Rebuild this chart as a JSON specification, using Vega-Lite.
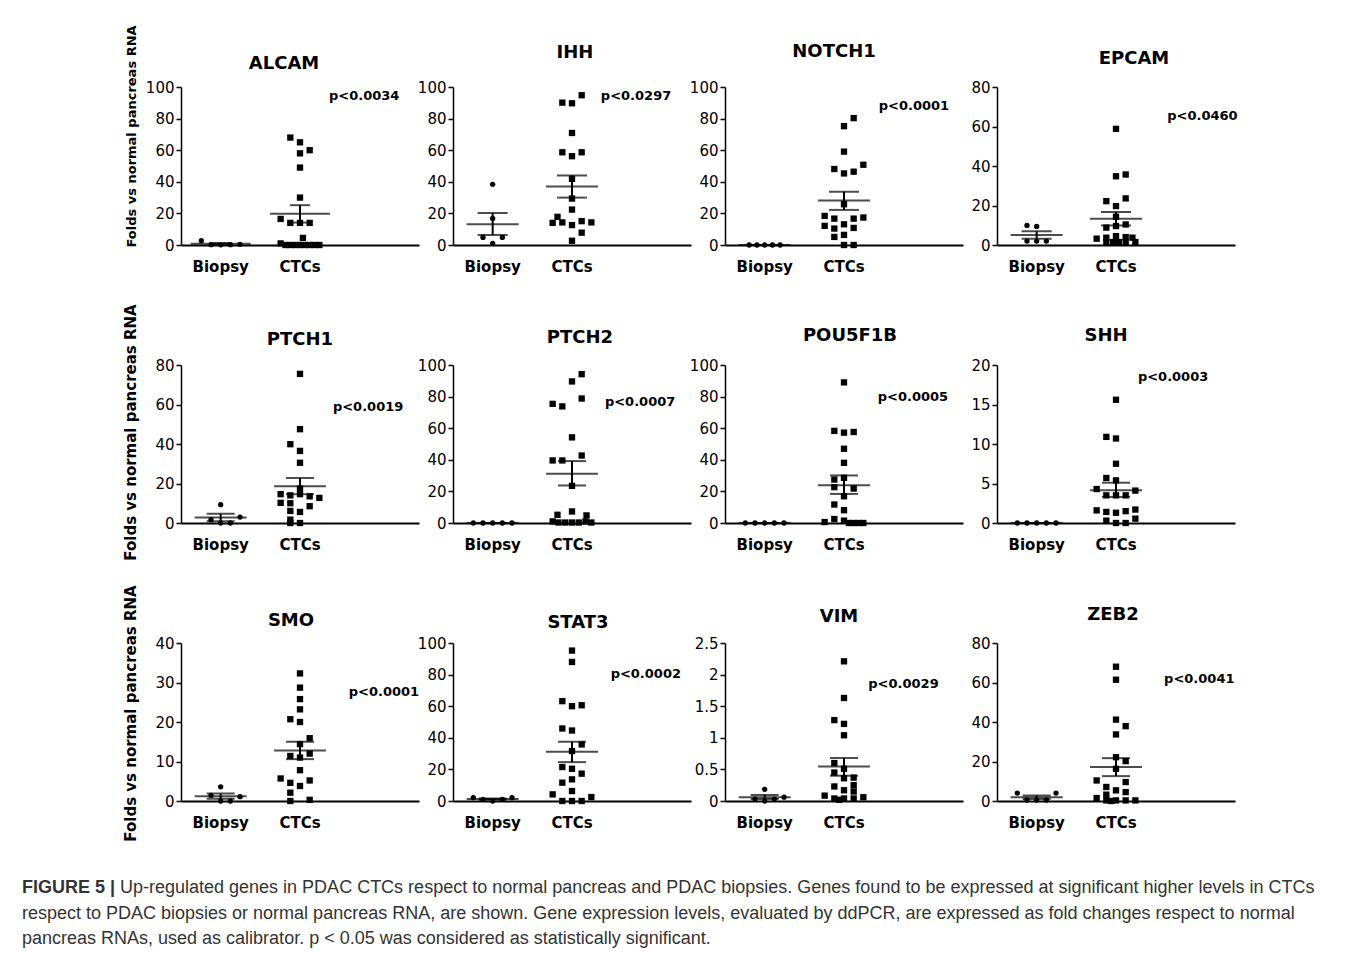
{
"$schema": "https://vega.github.io/schema/vega-lite/v6.json",
"padding": {"left": 22, "top": 24, "right": 10, "bottom": 10},
"bounds": "flush",
"datasets": {
"pts": [
{"g":"ALCAM","grp":"Biopsy","v":2.7,"s":-2},{"g":"ALCAM","grp":"Biopsy","v":0.2,"s":-1},{"g":"ALCAM","grp":"Biopsy","v":0.1,"s":0},{"g":"ALCAM","grp":"Biopsy","v":0.2,"s":1},{"g":"ALCAM","grp":"Biopsy","v":0.4,"s":2},
{"g":"ALCAM","grp":"CTCs","v":68,"s":-1},{"g":"ALCAM","grp":"CTCs","v":65,"s":0},{"g":"ALCAM","grp":"CTCs","v":58,"s":0},{"g":"ALCAM","grp":"CTCs","v":60,"s":1},{"g":"ALCAM","grp":"CTCs","v":49,"s":0},{"g":"ALCAM","grp":"CTCs","v":30,"s":0},{"g":"ALCAM","grp":"CTCs","v":16.5,"s":-2},{"g":"ALCAM","grp":"CTCs","v":14,"s":-1},{"g":"ALCAM","grp":"CTCs","v":14,"s":0},{"g":"ALCAM","grp":"CTCs","v":14,"s":1},{"g":"ALCAM","grp":"CTCs","v":4.5,"s":0.3},{"g":"ALCAM","grp":"CTCs","v":1,"s":-2},{"g":"ALCAM","grp":"CTCs","v":0,"s":-1.5},{"g":"ALCAM","grp":"CTCs","v":0,"s":-1},{"g":"ALCAM","grp":"CTCs","v":0,"s":-0.5},{"g":"ALCAM","grp":"CTCs","v":0,"s":0},{"g":"ALCAM","grp":"CTCs","v":0,"s":0.5},{"g":"ALCAM","grp":"CTCs","v":0,"s":1},{"g":"ALCAM","grp":"CTCs","v":0,"s":1.5},{"g":"ALCAM","grp":"CTCs","v":0,"s":2},
{"g":"IHH","grp":"Biopsy","v":38.4,"s":0},{"g":"IHH","grp":"Biopsy","v":16.8,"s":0},{"g":"IHH","grp":"Biopsy","v":4.8,"s":-1},{"g":"IHH","grp":"Biopsy","v":4.8,"s":1},{"g":"IHH","grp":"Biopsy","v":1,"s":0},
{"g":"IHH","grp":"CTCs","v":90.1,"s":-1},{"g":"IHH","grp":"CTCs","v":89.7,"s":0},{"g":"IHH","grp":"CTCs","v":94.8,"s":1},{"g":"IHH","grp":"CTCs","v":70.9,"s":0},{"g":"IHH","grp":"CTCs","v":58.7,"s":-1},{"g":"IHH","grp":"CTCs","v":56.2,"s":0},{"g":"IHH","grp":"CTCs","v":58.7,"s":1},{"g":"IHH","grp":"CTCs","v":41.9,"s":0},{"g":"IHH","grp":"CTCs","v":29.4,"s":0},{"g":"IHH","grp":"CTCs","v":22.4,"s":0},{"g":"IHH","grp":"CTCs","v":17.8,"s":-1.5},{"g":"IHH","grp":"CTCs","v":14.3,"s":-1},{"g":"IHH","grp":"CTCs","v":14,"s":-2},{"g":"IHH","grp":"CTCs","v":12.6,"s":0},{"g":"IHH","grp":"CTCs","v":15.1,"s":1},{"g":"IHH","grp":"CTCs","v":14.3,"s":2},{"g":"IHH","grp":"CTCs","v":7.8,"s":1},{"g":"IHH","grp":"CTCs","v":2.7,"s":0},
{"g":"NOTCH1","grp":"Biopsy","v":0,"s":-1.6},{"g":"NOTCH1","grp":"Biopsy","v":0,"s":-0.8},{"g":"NOTCH1","grp":"Biopsy","v":0,"s":0},{"g":"NOTCH1","grp":"Biopsy","v":0,"s":0.8},{"g":"NOTCH1","grp":"Biopsy","v":0,"s":1.6},
{"g":"NOTCH1","grp":"CTCs","v":80.3,"s":1},{"g":"NOTCH1","grp":"CTCs","v":75.2,"s":0},{"g":"NOTCH1","grp":"CTCs","v":59.1,"s":0},{"g":"NOTCH1","grp":"CTCs","v":48.1,"s":-1},{"g":"NOTCH1","grp":"CTCs","v":45.3,"s":0},{"g":"NOTCH1","grp":"CTCs","v":46.4,"s":1},{"g":"NOTCH1","grp":"CTCs","v":50.8,"s":2},{"g":"NOTCH1","grp":"CTCs","v":25.8,"s":0},{"g":"NOTCH1","grp":"CTCs","v":18.4,"s":-2},{"g":"NOTCH1","grp":"CTCs","v":16.7,"s":-1},{"g":"NOTCH1","grp":"CTCs","v":16.7,"s":1},{"g":"NOTCH1","grp":"CTCs","v":17.4,"s":2},{"g":"NOTCH1","grp":"CTCs","v":12.1,"s":-2},{"g":"NOTCH1","grp":"CTCs","v":10.4,"s":-1},{"g":"NOTCH1","grp":"CTCs","v":13.1,"s":0},{"g":"NOTCH1","grp":"CTCs","v":10.8,"s":1},{"g":"NOTCH1","grp":"CTCs","v":5.1,"s":-1},{"g":"NOTCH1","grp":"CTCs","v":6.4,"s":0},{"g":"NOTCH1","grp":"CTCs","v":0,"s":0},{"g":"NOTCH1","grp":"CTCs","v":0,"s":1},
{"g":"EPCAM","grp":"Biopsy","v":9.9,"s":-1},{"g":"EPCAM","grp":"Biopsy","v":9.4,"s":0},{"g":"EPCAM","grp":"Biopsy","v":2,"s":-1},{"g":"EPCAM","grp":"Biopsy","v":2,"s":0},{"g":"EPCAM","grp":"Biopsy","v":2,"s":1},
{"g":"EPCAM","grp":"CTCs","v":58.8,"s":0},{"g":"EPCAM","grp":"CTCs","v":34.8,"s":0},{"g":"EPCAM","grp":"CTCs","v":35.7,"s":1},{"g":"EPCAM","grp":"CTCs","v":22.2,"s":-1},{"g":"EPCAM","grp":"CTCs","v":23.6,"s":1},{"g":"EPCAM","grp":"CTCs","v":19.7,"s":0},{"g":"EPCAM","grp":"CTCs","v":14.3,"s":0},{"g":"EPCAM","grp":"CTCs","v":8.8,"s":-1},{"g":"EPCAM","grp":"CTCs","v":9.6,"s":0},{"g":"EPCAM","grp":"CTCs","v":10.4,"s":1},{"g":"EPCAM","grp":"CTCs","v":3.2,"s":-2},{"g":"EPCAM","grp":"CTCs","v":3.7,"s":-1},{"g":"EPCAM","grp":"CTCs","v":4.5,"s":0},{"g":"EPCAM","grp":"CTCs","v":4.0,"s":1},{"g":"EPCAM","grp":"CTCs","v":3.7,"s":1.7},{"g":"EPCAM","grp":"CTCs","v":1.5,"s":-1},{"g":"EPCAM","grp":"CTCs","v":1.5,"s":-0.3},{"g":"EPCAM","grp":"CTCs","v":1.5,"s":0.3},{"g":"EPCAM","grp":"CTCs","v":1.5,"s":1},{"g":"EPCAM","grp":"CTCs","v":1.5,"s":2},
{"g":"PTCH1","grp":"Biopsy","v":9.3,"s":0},{"g":"PTCH1","grp":"Biopsy","v":1.7,"s":-1},{"g":"PTCH1","grp":"Biopsy","v":0,"s":0},{"g":"PTCH1","grp":"Biopsy","v":0,"s":1},{"g":"PTCH1","grp":"Biopsy","v":3,"s":2},
{"g":"PTCH1","grp":"CTCs","v":75.5,"s":0},{"g":"PTCH1","grp":"CTCs","v":47.5,"s":0},{"g":"PTCH1","grp":"CTCs","v":39.9,"s":-1},{"g":"PTCH1","grp":"CTCs","v":36.5,"s":0},{"g":"PTCH1","grp":"CTCs","v":30.5,"s":0},{"g":"PTCH1","grp":"CTCs","v":17.4,"s":0},{"g":"PTCH1","grp":"CTCs","v":14.6,"s":-2},{"g":"PTCH1","grp":"CTCs","v":14,"s":-1},{"g":"PTCH1","grp":"CTCs","v":14.6,"s":0},{"g":"PTCH1","grp":"CTCs","v":13.5,"s":1},{"g":"PTCH1","grp":"CTCs","v":12.7,"s":2},{"g":"PTCH1","grp":"CTCs","v":10.2,"s":-2},{"g":"PTCH1","grp":"CTCs","v":10,"s":-1},{"g":"PTCH1","grp":"CTCs","v":8.5,"s":1},{"g":"PTCH1","grp":"CTCs","v":6.1,"s":-1},{"g":"PTCH1","grp":"CTCs","v":5.6,"s":0},{"g":"PTCH1","grp":"CTCs","v":1.7,"s":-1},{"g":"PTCH1","grp":"CTCs","v":0,"s":0},{"g":"PTCH1","grp":"CTCs","v":0,"s":-1},
{"g":"PTCH2","grp":"Biopsy","v":0,"s":-2},{"g":"PTCH2","grp":"Biopsy","v":0,"s":-1},{"g":"PTCH2","grp":"Biopsy","v":0,"s":0},{"g":"PTCH2","grp":"Biopsy","v":0,"s":1},{"g":"PTCH2","grp":"Biopsy","v":0,"s":2},
{"g":"PTCH2","grp":"CTCs","v":94.2,"s":1},{"g":"PTCH2","grp":"CTCs","v":89.6,"s":0},{"g":"PTCH2","grp":"CTCs","v":75.4,"s":-2},{"g":"PTCH2","grp":"CTCs","v":73.8,"s":-1},{"g":"PTCH2","grp":"CTCs","v":78.8,"s":1},{"g":"PTCH2","grp":"CTCs","v":54.2,"s":0},{"g":"PTCH2","grp":"CTCs","v":39.6,"s":-2},{"g":"PTCH2","grp":"CTCs","v":39.6,"s":-1},{"g":"PTCH2","grp":"CTCs","v":42.7,"s":1},{"g":"PTCH2","grp":"CTCs","v":23.5,"s":0},{"g":"PTCH2","grp":"CTCs","v":5.2,"s":-1.5},{"g":"PTCH2","grp":"CTCs","v":7.3,"s":0},{"g":"PTCH2","grp":"CTCs","v":4.8,"s":1.5},{"g":"PTCH2","grp":"CTCs","v":1,"s":-2},{"g":"PTCH2","grp":"CTCs","v":0.3,"s":-1.4},{"g":"PTCH2","grp":"CTCs","v":0.3,"s":-0.7},{"g":"PTCH2","grp":"CTCs","v":0.3,"s":0},{"g":"PTCH2","grp":"CTCs","v":0.3,"s":0.7},{"g":"PTCH2","grp":"CTCs","v":1,"s":1.4},{"g":"PTCH2","grp":"CTCs","v":0.3,"s":2},
{"g":"POU5F1B","grp":"Biopsy","v":0,"s":-2},{"g":"POU5F1B","grp":"Biopsy","v":0,"s":-1},{"g":"POU5F1B","grp":"Biopsy","v":0,"s":0},{"g":"POU5F1B","grp":"Biopsy","v":0,"s":1},{"g":"POU5F1B","grp":"Biopsy","v":0,"s":2},
{"g":"POU5F1B","grp":"CTCs","v":89,"s":0},{"g":"POU5F1B","grp":"CTCs","v":58.3,"s":-1},{"g":"POU5F1B","grp":"CTCs","v":57.2,"s":0},{"g":"POU5F1B","grp":"CTCs","v":57.6,"s":1},{"g":"POU5F1B","grp":"CTCs","v":47,"s":0},{"g":"POU5F1B","grp":"CTCs","v":38.1,"s":0},{"g":"POU5F1B","grp":"CTCs","v":28.6,"s":0},{"g":"POU5F1B","grp":"CTCs","v":27.5,"s":-1},{"g":"POU5F1B","grp":"CTCs","v":22.7,"s":-1},{"g":"POU5F1B","grp":"CTCs","v":21.8,"s":1},{"g":"POU5F1B","grp":"CTCs","v":16.9,"s":0},{"g":"POU5F1B","grp":"CTCs","v":11.7,"s":-1},{"g":"POU5F1B","grp":"CTCs","v":8.1,"s":0},{"g":"POU5F1B","grp":"CTCs","v":0.6,"s":-2},{"g":"POU5F1B","grp":"CTCs","v":2.5,"s":-1},{"g":"POU5F1B","grp":"CTCs","v":1.5,"s":0},{"g":"POU5F1B","grp":"CTCs","v":0,"s":0.5},{"g":"POU5F1B","grp":"CTCs","v":0,"s":1},{"g":"POU5F1B","grp":"CTCs","v":0,"s":1.5},{"g":"POU5F1B","grp":"CTCs","v":0,"s":2},
{"g":"SHH","grp":"Biopsy","v":0,"s":-2},{"g":"SHH","grp":"Biopsy","v":0,"s":-1},{"g":"SHH","grp":"Biopsy","v":0,"s":0},{"g":"SHH","grp":"Biopsy","v":0,"s":1},{"g":"SHH","grp":"Biopsy","v":0,"s":2},
{"g":"SHH","grp":"CTCs","v":15.6,"s":0},{"g":"SHH","grp":"CTCs","v":10.9,"s":-1},{"g":"SHH","grp":"CTCs","v":10.7,"s":0},{"g":"SHH","grp":"CTCs","v":7.5,"s":0},{"g":"SHH","grp":"CTCs","v":5.7,"s":-1},{"g":"SHH","grp":"CTCs","v":5.4,"s":0},{"g":"SHH","grp":"CTCs","v":4.3,"s":-2},{"g":"SHH","grp":"CTCs","v":4.1,"s":2},{"g":"SHH","grp":"CTCs","v":3.5,"s":-1},{"g":"SHH","grp":"CTCs","v":3.5,"s":0},{"g":"SHH","grp":"CTCs","v":3.5,"s":1},{"g":"SHH","grp":"CTCs","v":1.6,"s":-2},{"g":"SHH","grp":"CTCs","v":1.4,"s":-1},{"g":"SHH","grp":"CTCs","v":1.3,"s":0},{"g":"SHH","grp":"CTCs","v":1.5,"s":1},{"g":"SHH","grp":"CTCs","v":1.7,"s":2},{"g":"SHH","grp":"CTCs","v":0.55,"s":2},{"g":"SHH","grp":"CTCs","v":0.3,"s":-1},{"g":"SHH","grp":"CTCs","v":0,"s":0},{"g":"SHH","grp":"CTCs","v":0,"s":1},
{"g":"SMO","grp":"Biopsy","v":3.6,"s":0},{"g":"SMO","grp":"Biopsy","v":1.4,"s":-1},{"g":"SMO","grp":"Biopsy","v":0,"s":0},{"g":"SMO","grp":"Biopsy","v":0,"s":1},{"g":"SMO","grp":"Biopsy","v":1.1,"s":2},
{"g":"SMO","grp":"CTCs","v":32.3,"s":0},{"g":"SMO","grp":"CTCs","v":28.7,"s":0},{"g":"SMO","grp":"CTCs","v":25.8,"s":0},{"g":"SMO","grp":"CTCs","v":23.2,"s":0},{"g":"SMO","grp":"CTCs","v":20.7,"s":-1},{"g":"SMO","grp":"CTCs","v":20,"s":0},{"g":"SMO","grp":"CTCs","v":15.9,"s":1},{"g":"SMO","grp":"CTCs","v":14.4,"s":0},{"g":"SMO","grp":"CTCs","v":11.4,"s":-1},{"g":"SMO","grp":"CTCs","v":11,"s":0},{"g":"SMO","grp":"CTCs","v":12,"s":1},{"g":"SMO","grp":"CTCs","v":7.8,"s":0},{"g":"SMO","grp":"CTCs","v":5.7,"s":-2},{"g":"SMO","grp":"CTCs","v":4.6,"s":-1},{"g":"SMO","grp":"CTCs","v":5.2,"s":1},{"g":"SMO","grp":"CTCs","v":3.8,"s":0},{"g":"SMO","grp":"CTCs","v":2.1,"s":-1},{"g":"SMO","grp":"CTCs","v":0,"s":-1},{"g":"SMO","grp":"CTCs","v":0.3,"s":1},
{"g":"STAT3","grp":"Biopsy","v":2.1,"s":-2},{"g":"STAT3","grp":"Biopsy","v":1,"s":-1},{"g":"STAT3","grp":"Biopsy","v":0,"s":0},{"g":"STAT3","grp":"Biopsy","v":1,"s":1},{"g":"STAT3","grp":"Biopsy","v":2.1,"s":2},
{"g":"STAT3","grp":"CTCs","v":95.2,"s":0},{"g":"STAT3","grp":"CTCs","v":88,"s":0},{"g":"STAT3","grp":"CTCs","v":63.2,"s":-1},{"g":"STAT3","grp":"CTCs","v":60,"s":0},{"g":"STAT3","grp":"CTCs","v":60.6,"s":1},{"g":"STAT3","grp":"CTCs","v":45.9,"s":-1},{"g":"STAT3","grp":"CTCs","v":44.6,"s":0},{"g":"STAT3","grp":"CTCs","v":35.8,"s":1},{"g":"STAT3","grp":"CTCs","v":31.6,"s":0},{"g":"STAT3","grp":"CTCs","v":21.5,"s":-1},{"g":"STAT3","grp":"CTCs","v":20.4,"s":0},{"g":"STAT3","grp":"CTCs","v":17.3,"s":1},{"g":"STAT3","grp":"CTCs","v":11.6,"s":-1},{"g":"STAT3","grp":"CTCs","v":13.7,"s":0},{"g":"STAT3","grp":"CTCs","v":4.2,"s":-2},{"g":"STAT3","grp":"CTCs","v":6.3,"s":0},{"g":"STAT3","grp":"CTCs","v":2.5,"s":2},{"g":"STAT3","grp":"CTCs","v":0,"s":-1},{"g":"STAT3","grp":"CTCs","v":0,"s":0},{"g":"STAT3","grp":"CTCs","v":0,"s":1},
{"g":"VIM","grp":"Biopsy","v":0.185,"s":0},{"g":"VIM","grp":"Biopsy","v":0.03,"s":-1},{"g":"VIM","grp":"Biopsy","v":0,"s":0},{"g":"VIM","grp":"Biopsy","v":0.03,"s":1},{"g":"VIM","grp":"Biopsy","v":0.06,"s":2},
{"g":"VIM","grp":"CTCs","v":2.21,"s":0},{"g":"VIM","grp":"CTCs","v":1.63,"s":0},{"g":"VIM","grp":"CTCs","v":1.28,"s":-1},{"g":"VIM","grp":"CTCs","v":1.22,"s":0},{"g":"VIM","grp":"CTCs","v":1.04,"s":0},{"g":"VIM","grp":"CTCs","v":0.6,"s":-1},{"g":"VIM","grp":"CTCs","v":0.51,"s":0},{"g":"VIM","grp":"CTCs","v":0.45,"s":-1},{"g":"VIM","grp":"CTCs","v":0.37,"s":1},{"g":"VIM","grp":"CTCs","v":0.36,"s":0},{"g":"VIM","grp":"CTCs","v":0.25,"s":1},{"g":"VIM","grp":"CTCs","v":0.23,"s":-1},{"g":"VIM","grp":"CTCs","v":0.085,"s":-2},{"g":"VIM","grp":"CTCs","v":0.17,"s":0},{"g":"VIM","grp":"CTCs","v":0.15,"s":1},{"g":"VIM","grp":"CTCs","v":0.04,"s":-1},{"g":"VIM","grp":"CTCs","v":0.04,"s":0},{"g":"VIM","grp":"CTCs","v":0.04,"s":1},{"g":"VIM","grp":"CTCs","v":0.06,"s":2},{"g":"VIM","grp":"CTCs","v":0.02,"s":-0.5},
{"g":"ZEB2","grp":"Biopsy","v":4,"s":-2},{"g":"ZEB2","grp":"Biopsy","v":0.5,"s":-1},{"g":"ZEB2","grp":"Biopsy","v":0.5,"s":0},{"g":"ZEB2","grp":"Biopsy","v":0.5,"s":1},{"g":"ZEB2","grp":"Biopsy","v":4,"s":2},
{"g":"ZEB2","grp":"CTCs","v":68,"s":0},{"g":"ZEB2","grp":"CTCs","v":61.4,"s":0},{"g":"ZEB2","grp":"CTCs","v":41.2,"s":0},{"g":"ZEB2","grp":"CTCs","v":37.9,"s":1},{"g":"ZEB2","grp":"CTCs","v":33.7,"s":0},{"g":"ZEB2","grp":"CTCs","v":22.2,"s":0},{"g":"ZEB2","grp":"CTCs","v":20.2,"s":1},{"g":"ZEB2","grp":"CTCs","v":16.3,"s":0},{"g":"ZEB2","grp":"CTCs","v":10.4,"s":-2},{"g":"ZEB2","grp":"CTCs","v":9.6,"s":1},{"g":"ZEB2","grp":"CTCs","v":7.1,"s":-1},{"g":"ZEB2","grp":"CTCs","v":5.4,"s":0},{"g":"ZEB2","grp":"CTCs","v":1.5,"s":-2},{"g":"ZEB2","grp":"CTCs","v":3.2,"s":-1},{"g":"ZEB2","grp":"CTCs","v":4.5,"s":1},{"g":"ZEB2","grp":"CTCs","v":0.3,"s":-1},{"g":"ZEB2","grp":"CTCs","v":0.3,"s":0},{"g":"ZEB2","grp":"CTCs","v":0.3,"s":1},{"g":"ZEB2","grp":"CTCs","v":0.3,"s":2},{"g":"ZEB2","grp":"CTCs","v":0,"s":-0.5}
],
"st": [
{"g":"ALCAM","grp":"Biopsy","m":0.72,"lo":0.25,"hi":1.2},{"g":"ALCAM","grp":"CTCs","m":19.7,"lo":14.2,"hi":25.2},
{"g":"IHH","grp":"Biopsy","m":13.2,"lo":6.3,"hi":20.3},{"g":"IHH","grp":"CTCs","m":37.1,"lo":30,"hi":44},
{"g":"NOTCH1","grp":"Biopsy","m":0,"lo":0,"hi":0},{"g":"NOTCH1","grp":"CTCs","m":28.2,"lo":22.2,"hi":33.7},
{"g":"EPCAM","grp":"Biopsy","m":5.06,"lo":3.2,"hi":6.9},{"g":"EPCAM","grp":"CTCs","m":13.3,"lo":9.9,"hi":16.7},
{"g":"PTCH1","grp":"Biopsy","m":2.8,"lo":0.9,"hi":4.7},{"g":"PTCH1","grp":"CTCs","m":18.6,"lo":14.6,"hi":22.8},
{"g":"PTCH2","grp":"Biopsy","m":0,"lo":0,"hi":0},{"g":"PTCH2","grp":"CTCs","m":31.25,"lo":23.75,"hi":39.2},
{"g":"POU5F1B","grp":"Biopsy","m":0,"lo":0,"hi":0},{"g":"POU5F1B","grp":"CTCs","m":23.9,"lo":18.4,"hi":30.1},
{"g":"SHH","grp":"Biopsy","m":0,"lo":0,"hi":0},{"g":"SHH","grp":"CTCs","m":4.15,"lo":3.3,"hi":5.1},
{"g":"SMO","grp":"Biopsy","m":1.22,"lo":0.55,"hi":1.9},{"g":"SMO","grp":"CTCs","m":12.8,"lo":10.6,"hi":15},
{"g":"STAT3","grp":"Biopsy","m":1.24,"lo":0.85,"hi":1.63},{"g":"STAT3","grp":"CTCs","m":31.2,"lo":24.6,"hi":37.5},
{"g":"VIM","grp":"Biopsy","m":0.061,"lo":0.03,"hi":0.095},{"g":"VIM","grp":"CTCs","m":0.544,"lo":0.4,"hi":0.68},
{"g":"ZEB2","grp":"Biopsy","m":1.9,"lo":1.0,"hi":2.8},{"g":"ZEB2","grp":"CTCs","m":17.2,"lo":12.6,"hi":21.7}
]
},
"title": {
"text": ["respect to PDAC biopsies or normal pancreas RNA, are shown. Gene expression levels, evaluated by ddPCR, are expressed as fold changes respect to normal", "pancreas RNAs, used as calibrator. p < 0.05 was considered as statistically significant."],
"orient": "bottom", "anchor": "start", "frame": "group", "dx": -159, "offset": 7.5,
"font": "Liberation Sans", "fontSize": 18, "fontWeight": "normal", "color": "#333333", "lineHeight": 25.5
},
"vconcat": [
{
"title": {"text": "Up-regulated genes in PDAC CTCs respect to normal pancreas and PDAC biopsies. Genes found to be expressed at significant higher levels in CTCs", "orient": "bottom", "anchor": "start", "frame": "group", "dx": -61, "offset": -18, "font": "Liberation Sans", "fontSize": 18, "fontWeight": "normal", "color": "#333333"},
"vconcat": [
{
"bounds": "flush",
"columns": 4,
"spacing": {"row": 120, "column": 34},
"title": {"text": "FIGURE 5 |", "orient": "bottom", "anchor": "start", "frame": "group", "dx": -159, "offset": 38, "font": "Liberation Sans", "fontSize": 18, "fontWeight": "bold", "color": "#333333"},
"concat": [
{"width": 238, "height": 158, "title": {"text": "ALCAM", "dx": -16, "offset": -48},
 "layer": [
 {"data": {"name": "pts"}, "transform": [{"filter": "datum.g == 'ALCAM'"}], "mark": {"type": "point", "filled": true, "opacity": 1, "color": "black"},
  "encoding": {"x": {"field": "grp", "type": "nominal", "title": null, "scale": {"type": "band", "domain": ["Biopsy", "CTCs", " "], "paddingInner": 0, "paddingOuter": 0}},
   "xOffset": {"field": "s", "type": "quantitative", "scale": {"domain": [-4.1, 4.1]}},
   "y": {"field": "v", "type": "quantitative", "scale": {"domain": [0, 100], "nice": false}, "axis": {"values": [0, 20, 40, 60, 80, 100], "title": "Folds vs normal pancreas RNA", "titleFontSize": 13, "titleY": 49}},
   "shape": {"field": "grp", "type": "nominal", "scale": {"domain": ["Biopsy", "CTCs"], "range": ["circle", "square"]}, "legend": null},
   "size": {"field": "grp", "type": "nominal", "scale": {"domain": ["Biopsy", "CTCs"], "range": [28, 40]}, "legend": null}}},
 {"data": {"name": "st"}, "transform": [{"filter": "datum.g == 'ALCAM'"}], "mark": {"type": "tick", "orient": "horizontal", "color": "black", "size": 60, "thickness": 2}, "encoding": {"x": {"field": "grp", "type": "nominal"}, "y": {"field": "m", "type": "quantitative"}}},
 {"data": {"name": "st"}, "transform": [{"filter": "datum.g == 'ALCAM'"}], "mark": {"type": "tick", "orient": "horizontal", "color": "black", "size": 20, "thickness": 2}, "encoding": {"x": {"field": "grp", "type": "nominal"}, "y": {"field": "lo", "type": "quantitative"}}},
 {"data": {"name": "st"}, "transform": [{"filter": "datum.g == 'ALCAM'"}], "mark": {"type": "tick", "orient": "horizontal", "color": "black", "size": 20, "thickness": 2}, "encoding": {"x": {"field": "grp", "type": "nominal"}, "y": {"field": "hi", "type": "quantitative"}}},
 {"data": {"name": "st"}, "transform": [{"filter": "datum.g == 'ALCAM'"}], "mark": {"type": "rule", "color": "black", "strokeWidth": 2}, "encoding": {"x": {"field": "grp", "type": "nominal"}, "y": {"field": "lo", "type": "quantitative"}, "y2": {"field": "hi"}}},
 {"data": {"values": [{}]}, "mark": {"type": "text", "fontWeight": "bold", "fontSize": 13, "color": "black"}, "encoding": {"x": {"datum": " "}, "xOffset": {"datum": -1.56}, "y": {"datum": 94.3}, "text": {"value": "p<0.0034"}}}
 ]},
{"width": 238, "height": 158, "title": {"text": "IHH", "dx": 3, "offset": 18.5},
 "layer": [
 {"data": {"name": "pts"}, "transform": [{"filter": "datum.g == 'IHH'"}], "mark": {"type": "point", "filled": true, "opacity": 1, "color": "black"},
  "encoding": {"x": {"field": "grp", "type": "nominal", "title": null, "scale": {"type": "band", "domain": ["Biopsy", "CTCs", " "], "paddingInner": 0, "paddingOuter": 0}},
   "xOffset": {"field": "s", "type": "quantitative", "scale": {"domain": [-4.1, 4.1]}},
   "y": {"field": "v", "type": "quantitative", "scale": {"domain": [0, 100], "nice": false}, "axis": {"values": [0, 20, 40, 60, 80, 100], "title": null}},
   "shape": {"field": "grp", "type": "nominal", "scale": {"domain": ["Biopsy", "CTCs"], "range": ["circle", "square"]}, "legend": null},
   "size": {"field": "grp", "type": "nominal", "scale": {"domain": ["Biopsy", "CTCs"], "range": [28, 40]}, "legend": null}}},
 {"data": {"name": "st"}, "transform": [{"filter": "datum.g == 'IHH'"}], "mark": {"type": "tick", "orient": "horizontal", "color": "black", "size": 52, "thickness": 2}, "encoding": {"x": {"field": "grp", "type": "nominal"}, "y": {"field": "m", "type": "quantitative"}}},
 {"data": {"name": "st"}, "transform": [{"filter": "datum.g == 'IHH'"}], "mark": {"type": "tick", "orient": "horizontal", "color": "black", "size": 30, "thickness": 2}, "encoding": {"x": {"field": "grp", "type": "nominal"}, "y": {"field": "lo", "type": "quantitative"}}},
 {"data": {"name": "st"}, "transform": [{"filter": "datum.g == 'IHH'"}], "mark": {"type": "tick", "orient": "horizontal", "color": "black", "size": 30, "thickness": 2}, "encoding": {"x": {"field": "grp", "type": "nominal"}, "y": {"field": "hi", "type": "quantitative"}}},
 {"data": {"name": "st"}, "transform": [{"filter": "datum.g == 'IHH'"}], "mark": {"type": "rule", "color": "black", "strokeWidth": 2}, "encoding": {"x": {"field": "grp", "type": "nominal"}, "y": {"field": "lo", "type": "quantitative"}, "y2": {"field": "hi"}}},
 {"data": {"values": [{}]}, "mark": {"type": "text", "fontWeight": "bold", "fontSize": 13, "color": "black"}, "encoding": {"x": {"datum": " "}, "xOffset": {"datum": -1.58}, "y": {"datum": 94.3}, "text": {"value": "p<0.0297"}}}
 ]},
{"width": 238, "height": 158, "title": {"text": "NOTCH1", "dx": -10, "offset": 19},
 "layer": [
 {"data": {"name": "pts"}, "transform": [{"filter": "datum.g == 'NOTCH1'"}], "mark": {"type": "point", "filled": true, "opacity": 1, "color": "black"},
  "encoding": {"x": {"field": "grp", "type": "nominal", "title": null, "scale": {"type": "band", "domain": ["Biopsy", "CTCs", " "], "paddingInner": 0, "paddingOuter": 0}},
   "xOffset": {"field": "s", "type": "quantitative", "scale": {"domain": [-4.1, 4.1]}},
   "y": {"field": "v", "type": "quantitative", "scale": {"domain": [0, 100], "nice": false}, "axis": {"values": [0, 20, 40, 60, 80, 100], "title": null}},
   "shape": {"field": "grp", "type": "nominal", "scale": {"domain": ["Biopsy", "CTCs"], "range": ["circle", "square"]}, "legend": null},
   "size": {"field": "grp", "type": "nominal", "scale": {"domain": ["Biopsy", "CTCs"], "range": [28, 40]}, "legend": null}}},
 {"data": {"name": "st"}, "transform": [{"filter": "datum.g == 'NOTCH1'"}], "mark": {"type": "tick", "orient": "horizontal", "color": "black", "size": 52, "thickness": 2}, "encoding": {"x": {"field": "grp", "type": "nominal"}, "y": {"field": "m", "type": "quantitative"}}},
 {"data": {"name": "st"}, "transform": [{"filter": "datum.g == 'NOTCH1'"}], "mark": {"type": "tick", "orient": "horizontal", "color": "black", "size": 30, "thickness": 2}, "encoding": {"x": {"field": "grp", "type": "nominal"}, "y": {"field": "lo", "type": "quantitative"}}},
 {"data": {"name": "st"}, "transform": [{"filter": "datum.g == 'NOTCH1'"}], "mark": {"type": "tick", "orient": "horizontal", "color": "black", "size": 30, "thickness": 2}, "encoding": {"x": {"field": "grp", "type": "nominal"}, "y": {"field": "hi", "type": "quantitative"}}},
 {"data": {"name": "st"}, "transform": [{"filter": "datum.g == 'NOTCH1'"}], "mark": {"type": "rule", "color": "black", "strokeWidth": 2}, "encoding": {"x": {"field": "grp", "type": "nominal"}, "y": {"field": "lo", "type": "quantitative"}, "y2": {"field": "hi"}}},
 {"data": {"values": [{}]}, "mark": {"type": "text", "fontWeight": "bold", "fontSize": 13, "color": "black"}, "encoding": {"x": {"datum": " "}, "xOffset": {"datum": -0.97}, "y": {"datum": 87.9}, "text": {"value": "p<0.0001"}}}
 ]},
{"width": 238, "height": 158, "title": {"text": "EPCAM", "dx": 18, "offset": 12},
 "layer": [
 {"data": {"name": "pts"}, "transform": [{"filter": "datum.g == 'EPCAM'"}], "mark": {"type": "point", "filled": true, "opacity": 1, "color": "black"},
  "encoding": {"x": {"field": "grp", "type": "nominal", "title": null, "scale": {"type": "band", "domain": ["Biopsy", "CTCs", " "], "paddingInner": 0, "paddingOuter": 0}},
   "xOffset": {"field": "s", "type": "quantitative", "scale": {"domain": [-4.1, 4.1]}},
   "y": {"field": "v", "type": "quantitative", "scale": {"domain": [0, 80], "nice": false}, "axis": {"values": [0, 20, 40, 60, 80], "title": null}},
   "shape": {"field": "grp", "type": "nominal", "scale": {"domain": ["Biopsy", "CTCs"], "range": ["circle", "square"]}, "legend": null},
   "size": {"field": "grp", "type": "nominal", "scale": {"domain": ["Biopsy", "CTCs"], "range": [28, 40]}, "legend": null}}},
 {"data": {"name": "st"}, "transform": [{"filter": "datum.g == 'EPCAM'"}], "mark": {"type": "tick", "orient": "horizontal", "color": "black", "size": 52, "thickness": 2}, "encoding": {"x": {"field": "grp", "type": "nominal"}, "y": {"field": "m", "type": "quantitative"}}},
 {"data": {"name": "st"}, "transform": [{"filter": "datum.g == 'EPCAM'"}], "mark": {"type": "tick", "orient": "horizontal", "color": "black", "size": 30, "thickness": 2}, "encoding": {"x": {"field": "grp", "type": "nominal"}, "y": {"field": "lo", "type": "quantitative"}}},
 {"data": {"name": "st"}, "transform": [{"filter": "datum.g == 'EPCAM'"}], "mark": {"type": "tick", "orient": "horizontal", "color": "black", "size": 30, "thickness": 2}, "encoding": {"x": {"field": "grp", "type": "nominal"}, "y": {"field": "hi", "type": "quantitative"}}},
 {"data": {"name": "st"}, "transform": [{"filter": "datum.g == 'EPCAM'"}], "mark": {"type": "rule", "color": "black", "strokeWidth": 2}, "encoding": {"x": {"field": "grp", "type": "nominal"}, "y": {"field": "lo", "type": "quantitative"}, "y2": {"field": "hi"}}},
 {"data": {"values": [{}]}, "mark": {"type": "text", "fontWeight": "bold", "fontSize": 13, "color": "black"}, "encoding": {"x": {"datum": " "}, "xOffset": {"datum": 0.73}, "y": {"datum": 65.3}, "text": {"value": "p<0.0460"}}}
 ]},
{"width": 238, "height": 158, "title": {"text": "PTCH1", "dx": 0, "offset": -45},
 "layer": [
 {"data": {"name": "pts"}, "transform": [{"filter": "datum.g == 'PTCH1'"}], "mark": {"type": "point", "filled": true, "opacity": 1, "color": "black"},
  "encoding": {"x": {"field": "grp", "type": "nominal", "title": null, "scale": {"type": "band", "domain": ["Biopsy", "CTCs", " "], "paddingInner": 0, "paddingOuter": 0}},
   "xOffset": {"field": "s", "type": "quantitative", "scale": {"domain": [-4.1, 4.1]}},
   "y": {"field": "v", "type": "quantitative", "scale": {"domain": [0, 80], "nice": false}, "axis": {"values": [0, 20, 40, 60, 80], "title": "Folds vs normal pancreas RNA", "titleFontSize": 15, "titleY": 67}},
   "shape": {"field": "grp", "type": "nominal", "scale": {"domain": ["Biopsy", "CTCs"], "range": ["circle", "square"]}, "legend": null},
   "size": {"field": "grp", "type": "nominal", "scale": {"domain": ["Biopsy", "CTCs"], "range": [28, 40]}, "legend": null}}},
 {"data": {"name": "st"}, "transform": [{"filter": "datum.g == 'PTCH1'"}], "mark": {"type": "tick", "orient": "horizontal", "color": "black", "size": 52, "thickness": 2}, "encoding": {"x": {"field": "grp", "type": "nominal"}, "y": {"field": "m", "type": "quantitative"}}},
 {"data": {"name": "st"}, "transform": [{"filter": "datum.g == 'PTCH1'"}], "mark": {"type": "tick", "orient": "horizontal", "color": "black", "size": 28, "thickness": 2}, "encoding": {"x": {"field": "grp", "type": "nominal"}, "y": {"field": "lo", "type": "quantitative"}}},
 {"data": {"name": "st"}, "transform": [{"filter": "datum.g == 'PTCH1'"}], "mark": {"type": "tick", "orient": "horizontal", "color": "black", "size": 28, "thickness": 2}, "encoding": {"x": {"field": "grp", "type": "nominal"}, "y": {"field": "hi", "type": "quantitative"}}},
 {"data": {"name": "st"}, "transform": [{"filter": "datum.g == 'PTCH1'"}], "mark": {"type": "rule", "color": "black", "strokeWidth": 2}, "encoding": {"x": {"field": "grp", "type": "nominal"}, "y": {"field": "lo", "type": "quantitative"}, "y2": {"field": "hi"}}},
 {"data": {"values": [{}]}, "mark": {"type": "text", "fontWeight": "bold", "fontSize": 13, "color": "black"}, "encoding": {"x": {"datum": " "}, "xOffset": {"datum": -1.16}, "y": {"datum": 58.6}, "text": {"value": "p<0.0019"}}}
 ]},
{"width": 238, "height": 158, "title": {"text": "PTCH2", "dx": 8, "offset": 11.5},
 "layer": [
 {"data": {"name": "pts"}, "transform": [{"filter": "datum.g == 'PTCH2'"}], "mark": {"type": "point", "filled": true, "opacity": 1, "color": "black"},
  "encoding": {"x": {"field": "grp", "type": "nominal", "title": null, "scale": {"type": "band", "domain": ["Biopsy", "CTCs", " "], "paddingInner": 0, "paddingOuter": 0}},
   "xOffset": {"field": "s", "type": "quantitative", "scale": {"domain": [-4.1, 4.1]}},
   "y": {"field": "v", "type": "quantitative", "scale": {"domain": [0, 100], "nice": false}, "axis": {"values": [0, 20, 40, 60, 80, 100], "title": null}},
   "shape": {"field": "grp", "type": "nominal", "scale": {"domain": ["Biopsy", "CTCs"], "range": ["circle", "square"]}, "legend": null},
   "size": {"field": "grp", "type": "nominal", "scale": {"domain": ["Biopsy", "CTCs"], "range": [28, 40]}, "legend": null}}},
 {"data": {"name": "st"}, "transform": [{"filter": "datum.g == 'PTCH2'"}], "mark": {"type": "tick", "orient": "horizontal", "color": "black", "size": 52, "thickness": 2}, "encoding": {"x": {"field": "grp", "type": "nominal"}, "y": {"field": "m", "type": "quantitative"}}},
 {"data": {"name": "st"}, "transform": [{"filter": "datum.g == 'PTCH2'"}], "mark": {"type": "tick", "orient": "horizontal", "color": "black", "size": 28, "thickness": 2}, "encoding": {"x": {"field": "grp", "type": "nominal"}, "y": {"field": "lo", "type": "quantitative"}}},
 {"data": {"name": "st"}, "transform": [{"filter": "datum.g == 'PTCH2'"}], "mark": {"type": "tick", "orient": "horizontal", "color": "black", "size": 28, "thickness": 2}, "encoding": {"x": {"field": "grp", "type": "nominal"}, "y": {"field": "hi", "type": "quantitative"}}},
 {"data": {"name": "st"}, "transform": [{"filter": "datum.g == 'PTCH2'"}], "mark": {"type": "rule", "color": "black", "strokeWidth": 2}, "encoding": {"x": {"field": "grp", "type": "nominal"}, "y": {"field": "lo", "type": "quantitative"}, "y2": {"field": "hi"}}},
 {"data": {"values": [{}]}, "mark": {"type": "text", "fontWeight": "bold", "fontSize": 13, "color": "black"}, "encoding": {"x": {"datum": " "}, "xOffset": {"datum": -1.16}, "y": {"datum": 76.3}, "text": {"value": "p<0.0007"}}}
 ]},
{"width": 238, "height": 158, "title": {"text": "POU5F1B", "dx": 6, "offset": 13.5},
 "layer": [
 {"data": {"name": "pts"}, "transform": [{"filter": "datum.g == 'POU5F1B'"}], "mark": {"type": "point", "filled": true, "opacity": 1, "color": "black"},
  "encoding": {"x": {"field": "grp", "type": "nominal", "title": null, "scale": {"type": "band", "domain": ["Biopsy", "CTCs", " "], "paddingInner": 0, "paddingOuter": 0}},
   "xOffset": {"field": "s", "type": "quantitative", "scale": {"domain": [-4.1, 4.1]}},
   "y": {"field": "v", "type": "quantitative", "scale": {"domain": [0, 100], "nice": false}, "axis": {"values": [0, 20, 40, 60, 80, 100], "title": null}},
   "shape": {"field": "grp", "type": "nominal", "scale": {"domain": ["Biopsy", "CTCs"], "range": ["circle", "square"]}, "legend": null},
   "size": {"field": "grp", "type": "nominal", "scale": {"domain": ["Biopsy", "CTCs"], "range": [28, 40]}, "legend": null}}},
 {"data": {"name": "st"}, "transform": [{"filter": "datum.g == 'POU5F1B'"}], "mark": {"type": "tick", "orient": "horizontal", "color": "black", "size": 52, "thickness": 2}, "encoding": {"x": {"field": "grp", "type": "nominal"}, "y": {"field": "m", "type": "quantitative"}}},
 {"data": {"name": "st"}, "transform": [{"filter": "datum.g == 'POU5F1B'"}], "mark": {"type": "tick", "orient": "horizontal", "color": "black", "size": 28, "thickness": 2}, "encoding": {"x": {"field": "grp", "type": "nominal"}, "y": {"field": "lo", "type": "quantitative"}}},
 {"data": {"name": "st"}, "transform": [{"filter": "datum.g == 'POU5F1B'"}], "mark": {"type": "tick", "orient": "horizontal", "color": "black", "size": 28, "thickness": 2}, "encoding": {"x": {"field": "grp", "type": "nominal"}, "y": {"field": "hi", "type": "quantitative"}}},
 {"data": {"name": "st"}, "transform": [{"filter": "datum.g == 'POU5F1B'"}], "mark": {"type": "rule", "color": "black", "strokeWidth": 2}, "encoding": {"x": {"field": "grp", "type": "nominal"}, "y": {"field": "lo", "type": "quantitative"}, "y2": {"field": "hi"}}},
 {"data": {"values": [{}]}, "mark": {"type": "text", "fontWeight": "bold", "fontSize": 13, "color": "black"}, "encoding": {"x": {"datum": " "}, "xOffset": {"datum": -1.07}, "y": {"datum": 79.6}, "text": {"value": "p<0.0005"}}}
 ]},
{"width": 238, "height": 158, "title": {"text": "SHH", "dx": -10, "offset": 13.5},
 "layer": [
 {"data": {"name": "pts"}, "transform": [{"filter": "datum.g == 'SHH'"}], "mark": {"type": "point", "filled": true, "opacity": 1, "color": "black"},
  "encoding": {"x": {"field": "grp", "type": "nominal", "title": null, "scale": {"type": "band", "domain": ["Biopsy", "CTCs", " "], "paddingInner": 0, "paddingOuter": 0}},
   "xOffset": {"field": "s", "type": "quantitative", "scale": {"domain": [-4.1, 4.1]}},
   "y": {"field": "v", "type": "quantitative", "scale": {"domain": [0, 20], "nice": false}, "axis": {"values": [0, 5, 10, 15, 20], "title": null}},
   "shape": {"field": "grp", "type": "nominal", "scale": {"domain": ["Biopsy", "CTCs"], "range": ["circle", "square"]}, "legend": null},
   "size": {"field": "grp", "type": "nominal", "scale": {"domain": ["Biopsy", "CTCs"], "range": [28, 40]}, "legend": null}}},
 {"data": {"name": "st"}, "transform": [{"filter": "datum.g == 'SHH'"}], "mark": {"type": "tick", "orient": "horizontal", "color": "black", "size": 52, "thickness": 2}, "encoding": {"x": {"field": "grp", "type": "nominal"}, "y": {"field": "m", "type": "quantitative"}}},
 {"data": {"name": "st"}, "transform": [{"filter": "datum.g == 'SHH'"}], "mark": {"type": "tick", "orient": "horizontal", "color": "black", "size": 28, "thickness": 2}, "encoding": {"x": {"field": "grp", "type": "nominal"}, "y": {"field": "lo", "type": "quantitative"}}},
 {"data": {"name": "st"}, "transform": [{"filter": "datum.g == 'SHH'"}], "mark": {"type": "tick", "orient": "horizontal", "color": "black", "size": 28, "thickness": 2}, "encoding": {"x": {"field": "grp", "type": "nominal"}, "y": {"field": "hi", "type": "quantitative"}}},
 {"data": {"name": "st"}, "transform": [{"filter": "datum.g == 'SHH'"}], "mark": {"type": "rule", "color": "black", "strokeWidth": 2}, "encoding": {"x": {"field": "grp", "type": "nominal"}, "y": {"field": "lo", "type": "quantitative"}, "y2": {"field": "hi"}}},
 {"data": {"values": [{}]}, "mark": {"type": "text", "fontWeight": "bold", "fontSize": 13, "color": "black"}, "encoding": {"x": {"datum": " "}, "xOffset": {"datum": -2.3}, "y": {"datum": 18.5}, "text": {"value": "p<0.0003"}}}
 ]},
{"width": 238, "height": 158, "title": {"text": "SMO", "dx": -9, "offset": -45},
 "layer": [
 {"data": {"name": "pts"}, "transform": [{"filter": "datum.g == 'SMO'"}], "mark": {"type": "point", "filled": true, "opacity": 1, "color": "black"},
  "encoding": {"x": {"field": "grp", "type": "nominal", "title": null, "scale": {"type": "band", "domain": ["Biopsy", "CTCs", " "], "paddingInner": 0, "paddingOuter": 0}},
   "xOffset": {"field": "s", "type": "quantitative", "scale": {"domain": [-4.1, 4.1]}},
   "y": {"field": "v", "type": "quantitative", "scale": {"domain": [0, 40], "nice": false}, "axis": {"values": [0, 10, 20, 30, 40], "title": "Folds vs normal pancreas RNA", "titleFontSize": 15, "titleY": 70}},
   "shape": {"field": "grp", "type": "nominal", "scale": {"domain": ["Biopsy", "CTCs"], "range": ["circle", "square"]}, "legend": null},
   "size": {"field": "grp", "type": "nominal", "scale": {"domain": ["Biopsy", "CTCs"], "range": [28, 40]}, "legend": null}}},
 {"data": {"name": "st"}, "transform": [{"filter": "datum.g == 'SMO'"}], "mark": {"type": "tick", "orient": "horizontal", "color": "black", "size": 52, "thickness": 2}, "encoding": {"x": {"field": "grp", "type": "nominal"}, "y": {"field": "m", "type": "quantitative"}}},
 {"data": {"name": "st"}, "transform": [{"filter": "datum.g == 'SMO'"}], "mark": {"type": "tick", "orient": "horizontal", "color": "black", "size": 28, "thickness": 2}, "encoding": {"x": {"field": "grp", "type": "nominal"}, "y": {"field": "lo", "type": "quantitative"}}},
 {"data": {"name": "st"}, "transform": [{"filter": "datum.g == 'SMO'"}], "mark": {"type": "tick", "orient": "horizontal", "color": "black", "size": 28, "thickness": 2}, "encoding": {"x": {"field": "grp", "type": "nominal"}, "y": {"field": "hi", "type": "quantitative"}}},
 {"data": {"name": "st"}, "transform": [{"filter": "datum.g == 'SMO'"}], "mark": {"type": "rule", "color": "black", "strokeWidth": 2}, "encoding": {"x": {"field": "grp", "type": "nominal"}, "y": {"field": "lo", "type": "quantitative"}, "y2": {"field": "hi"}}},
 {"data": {"values": [{}]}, "mark": {"type": "text", "fontWeight": "bold", "fontSize": 13, "color": "black"}, "encoding": {"x": {"datum": " "}, "xOffset": {"datum": 0.48}, "y": {"datum": 27.5}, "text": {"value": "p<0.0001"}}}
 ]},
{"width": 238, "height": 158, "title": {"text": "STAT3", "dx": 6, "offset": 4.5},
 "layer": [
 {"data": {"name": "pts"}, "transform": [{"filter": "datum.g == 'STAT3'"}], "mark": {"type": "point", "filled": true, "opacity": 1, "color": "black"},
  "encoding": {"x": {"field": "grp", "type": "nominal", "title": null, "scale": {"type": "band", "domain": ["Biopsy", "CTCs", " "], "paddingInner": 0, "paddingOuter": 0}},
   "xOffset": {"field": "s", "type": "quantitative", "scale": {"domain": [-4.1, 4.1]}},
   "y": {"field": "v", "type": "quantitative", "scale": {"domain": [0, 100], "nice": false}, "axis": {"values": [0, 20, 40, 60, 80, 100], "title": null}},
   "shape": {"field": "grp", "type": "nominal", "scale": {"domain": ["Biopsy", "CTCs"], "range": ["circle", "square"]}, "legend": null},
   "size": {"field": "grp", "type": "nominal", "scale": {"domain": ["Biopsy", "CTCs"], "range": [28, 40]}, "legend": null}}},
 {"data": {"name": "st"}, "transform": [{"filter": "datum.g == 'STAT3'"}], "mark": {"type": "tick", "orient": "horizontal", "color": "black", "size": 52, "thickness": 2}, "encoding": {"x": {"field": "grp", "type": "nominal"}, "y": {"field": "m", "type": "quantitative"}}},
 {"data": {"name": "st"}, "transform": [{"filter": "datum.g == 'STAT3'"}], "mark": {"type": "tick", "orient": "horizontal", "color": "black", "size": 28, "thickness": 2}, "encoding": {"x": {"field": "grp", "type": "nominal"}, "y": {"field": "lo", "type": "quantitative"}}},
 {"data": {"name": "st"}, "transform": [{"filter": "datum.g == 'STAT3'"}], "mark": {"type": "tick", "orient": "horizontal", "color": "black", "size": 28, "thickness": 2}, "encoding": {"x": {"field": "grp", "type": "nominal"}, "y": {"field": "hi", "type": "quantitative"}}},
 {"data": {"name": "st"}, "transform": [{"filter": "datum.g == 'STAT3'"}], "mark": {"type": "rule", "color": "black", "strokeWidth": 2}, "encoding": {"x": {"field": "grp", "type": "nominal"}, "y": {"field": "lo", "type": "quantitative"}, "y2": {"field": "hi"}}},
 {"data": {"values": [{}]}, "mark": {"type": "text", "fontWeight": "bold", "fontSize": 13, "color": "black"}, "encoding": {"x": {"datum": " "}, "xOffset": {"datum": -0.57}, "y": {"datum": 80.4}, "text": {"value": "p<0.0002"}}}
 ]},
{"width": 238, "height": 158, "title": {"text": "VIM", "dx": -5, "offset": 10.5},
 "layer": [
 {"data": {"name": "pts"}, "transform": [{"filter": "datum.g == 'VIM'"}], "mark": {"type": "point", "filled": true, "opacity": 1, "color": "black"},
  "encoding": {"x": {"field": "grp", "type": "nominal", "title": null, "scale": {"type": "band", "domain": ["Biopsy", "CTCs", " "], "paddingInner": 0, "paddingOuter": 0}},
   "xOffset": {"field": "s", "type": "quantitative", "scale": {"domain": [-4.1, 4.1]}},
   "y": {"field": "v", "type": "quantitative", "scale": {"domain": [0, 2.5], "nice": false}, "axis": {"values": [0, 0.5, 1, 1.5, 2, 2.5], "format": "~g", "title": null}},
   "shape": {"field": "grp", "type": "nominal", "scale": {"domain": ["Biopsy", "CTCs"], "range": ["circle", "square"]}, "legend": null},
   "size": {"field": "grp", "type": "nominal", "scale": {"domain": ["Biopsy", "CTCs"], "range": [28, 40]}, "legend": null}}},
 {"data": {"name": "st"}, "transform": [{"filter": "datum.g == 'VIM'"}], "mark": {"type": "tick", "orient": "horizontal", "color": "black", "size": 52, "thickness": 2}, "encoding": {"x": {"field": "grp", "type": "nominal"}, "y": {"field": "m", "type": "quantitative"}}},
 {"data": {"name": "st"}, "transform": [{"filter": "datum.g == 'VIM'"}], "mark": {"type": "tick", "orient": "horizontal", "color": "black", "size": 28, "thickness": 2}, "encoding": {"x": {"field": "grp", "type": "nominal"}, "y": {"field": "lo", "type": "quantitative"}}},
 {"data": {"name": "st"}, "transform": [{"filter": "datum.g == 'VIM'"}], "mark": {"type": "tick", "orient": "horizontal", "color": "black", "size": 28, "thickness": 2}, "encoding": {"x": {"field": "grp", "type": "nominal"}, "y": {"field": "hi", "type": "quantitative"}}},
 {"data": {"name": "st"}, "transform": [{"filter": "datum.g == 'VIM'"}], "mark": {"type": "rule", "color": "black", "strokeWidth": 2}, "encoding": {"x": {"field": "grp", "type": "nominal"}, "y": {"field": "lo", "type": "quantitative"}, "y2": {"field": "hi"}}},
 {"data": {"values": [{}]}, "mark": {"type": "text", "fontWeight": "bold", "fontSize": 13, "color": "black"}, "encoding": {"x": {"datum": " "}, "xOffset": {"datum": -2.05}, "y": {"datum": 1.85}, "text": {"value": "p<0.0029"}}}
 ]},
{"width": 238, "height": 158, "title": {"text": "ZEB2", "dx": -3, "offset": 12.5},
 "layer": [
 {"data": {"name": "pts"}, "transform": [{"filter": "datum.g == 'ZEB2'"}], "mark": {"type": "point", "filled": true, "opacity": 1, "color": "black"},
  "encoding": {"x": {"field": "grp", "type": "nominal", "title": null, "scale": {"type": "band", "domain": ["Biopsy", "CTCs", " "], "paddingInner": 0, "paddingOuter": 0}},
   "xOffset": {"field": "s", "type": "quantitative", "scale": {"domain": [-4.1, 4.1]}},
   "y": {"field": "v", "type": "quantitative", "scale": {"domain": [0, 80], "nice": false}, "axis": {"values": [0, 20, 40, 60, 80], "title": null}},
   "shape": {"field": "grp", "type": "nominal", "scale": {"domain": ["Biopsy", "CTCs"], "range": ["circle", "square"]}, "legend": null},
   "size": {"field": "grp", "type": "nominal", "scale": {"domain": ["Biopsy", "CTCs"], "range": [28, 40]}, "legend": null}}},
 {"data": {"name": "st"}, "transform": [{"filter": "datum.g == 'ZEB2'"}], "mark": {"type": "tick", "orient": "horizontal", "color": "black", "size": 52, "thickness": 2}, "encoding": {"x": {"field": "grp", "type": "nominal"}, "y": {"field": "m", "type": "quantitative"}}},
 {"data": {"name": "st"}, "transform": [{"filter": "datum.g == 'ZEB2'"}], "mark": {"type": "tick", "orient": "horizontal", "color": "black", "size": 28, "thickness": 2}, "encoding": {"x": {"field": "grp", "type": "nominal"}, "y": {"field": "lo", "type": "quantitative"}}},
 {"data": {"name": "st"}, "transform": [{"filter": "datum.g == 'ZEB2'"}], "mark": {"type": "tick", "orient": "horizontal", "color": "black", "size": 28, "thickness": 2}, "encoding": {"x": {"field": "grp", "type": "nominal"}, "y": {"field": "hi", "type": "quantitative"}}},
 {"data": {"name": "st"}, "transform": [{"filter": "datum.g == 'ZEB2'"}], "mark": {"type": "rule", "color": "black", "strokeWidth": 2}, "encoding": {"x": {"field": "grp", "type": "nominal"}, "y": {"field": "lo", "type": "quantitative"}, "y2": {"field": "hi"}}},
 {"data": {"values": [{}]}, "mark": {"type": "text", "fontWeight": "bold", "fontSize": 13, "color": "black"}, "encoding": {"x": {"datum": " "}, "xOffset": {"datum": 0.41}, "y": {"datum": 61.9}, "text": {"value": "p<0.0041"}}}
 ]}
]
}
]
}
],
"config": {
"font": "DejaVu Sans",
"view": {"stroke": null},
"axis": {"grid": false, "domainColor": "black", "domainWidth": 1.5, "tickColor": "black", "tickWidth": 1.5, "labelColor": "black", "titleColor": "black", "labelFont": "DejaVu Sans", "titleFont": "DejaVu Sans"},
"axisX": {"ticks": false, "tickSize": 0, "labelFontWeight": "bold", "labelFontSize": 15, "labelPadding": 14, "labelAngle": 0, "domainWidth": 2},
"axisY": {"tickSize": 5, "tickCount": 12, "labelFontSize": 15, "labelPadding": 2, "labelOverlap": false, "minExtent": 36, "maxExtent": 36, "titleFontSize": 13, "titleFontWeight": "bold", "titlePadding": 7},
"title": {"fontSize": 18, "fontWeight": "bold", "color": "black", "font": "DejaVu Sans"}
}
}
